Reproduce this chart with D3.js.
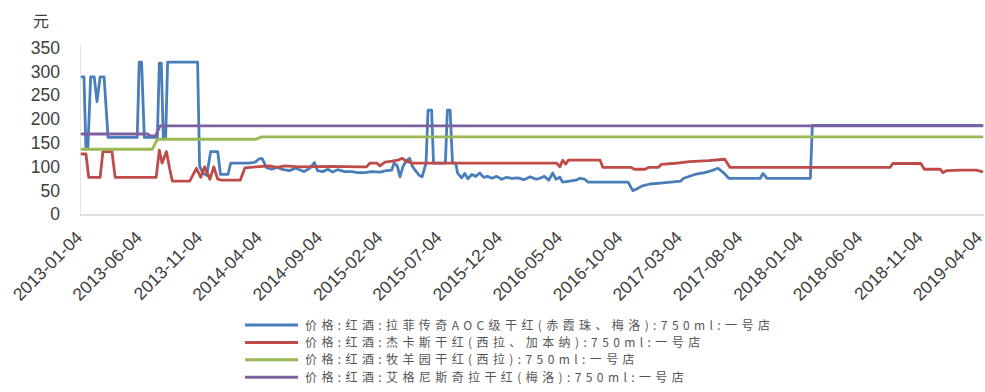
<!DOCTYPE html>
<html>
<head>
<meta charset="utf-8">
<script src="https://cdn.jsdelivr.net/npm/d3@7"></script>
<style>
  body { margin: 0; background: #fff; }
  svg { display: block; }
</style>
</head>
<body>
<svg id="chart" width="985" height="392"></svg>
<script>
// 一号店 红酒价格 (元 / 750ml)
const seriesNames = [
  "价格:红酒:拉菲传奇AOC级干红(赤霞珠、梅洛):750ml:一号店",
  "价格:红酒:杰卡斯干红(西拉、加本纳):750ml:一号店",
  "价格:红酒:牧羊园干红(西拉):750ml:一号店",
  "价格:红酒:艾格尼斯奇拉干红(梅洛):750ml:一号店"
];

const lafiteAOC = [
  ["2013-01-04",287],["2013-01-09",287],["2013-01-14",135],["2013-01-19",140],["2013-01-26",287],
  ["2013-02-04",287],["2013-02-11",235],["2013-02-19",287],["2013-03-01",287],["2013-03-11",160],
  ["2013-05-24",160],["2013-05-29",318],["2013-06-04",318],["2013-06-11",160],["2013-07-14",160],
  ["2013-07-19",316],["2013-07-24",316],["2013-07-29",160],["2013-08-04",160],["2013-08-09",318],
  ["2013-10-24",318],["2013-10-29",100],["2013-11-06",85],["2013-11-16",80],["2013-11-26",130],
  ["2013-12-14",130],["2013-12-21",82],["2014-01-09",82],["2014-01-16",106],["2014-03-04",106],
  ["2014-03-19",108],["2014-03-29",115],["2014-04-06",115],["2014-04-16",97],["2014-04-29",93],
  ["2014-05-14",97],["2014-05-29",92],["2014-06-14",90],["2014-06-29",95],["2014-07-09",92],
  ["2014-07-21",88],["2014-08-04",95],["2014-08-16",107],["2014-08-24",90],["2014-09-06",88],
  ["2014-09-19",93],["2014-10-01",87],["2014-10-14",92],["2014-11-01",88],["2014-11-19",88],
  ["2014-12-04",86],["2014-12-21",86],["2015-01-09",88],["2015-01-29",87],["2015-02-14",90],
  ["2015-02-28",91],["2015-03-06",106],["2015-03-14",100],["2015-03-21",77],["2015-03-29",100],
  ["2015-04-06",110],["2015-04-14",116],["2015-04-21",100],["2015-04-29",90],["2015-05-09",80],
  ["2015-05-16",77],["2015-05-26",106],["2015-05-31",217],["2015-06-09",217],["2015-06-14",106],
  ["2015-07-14",106],["2015-07-19",217],["2015-07-26",217],["2015-08-01",106],["2015-08-09",106],
  ["2015-08-14",85],["2015-08-24",75],["2015-09-01",84],["2015-09-09",73],["2015-09-19",82],
  ["2015-09-29",78],["2015-10-09",85],["2015-10-19",76],["2015-10-29",78],["2015-11-09",74],
  ["2015-11-21",78],["2015-12-04",72],["2015-12-16",76],["2015-12-29",74],["2016-01-14",75],
  ["2016-01-29",71],["2016-02-14",77],["2016-02-29",72],["2016-03-09",74],["2016-03-21",78],
  ["2016-04-01",70],["2016-04-11",85],["2016-04-19",72],["2016-04-29",76],["2016-05-06",66],
  ["2016-05-24",68],["2016-06-09",70],["2016-06-19",74],["2016-07-01",72],["2016-07-09",66],
  ["2016-08-09",66],["2016-09-16",66],["2016-10-19",66],["2016-10-31",48],["2016-11-11",52],
  ["2016-11-24",58],["2016-12-14",62],["2017-01-09",64],["2017-02-04",66],["2017-03-01",68],
  ["2017-03-09",74],["2017-04-06",82],["2017-05-01",86],["2017-05-19",90],["2017-06-04",95],
  ["2017-06-19",85],["2017-07-01",74],["2017-09-19",74],["2017-09-26",84],["2017-10-06",74],
  ["2018-01-24",74],["2018-01-29",185],["2019-04-04",185]
];

const jacobsCreek = [
  ["2013-01-04",125],["2013-01-14",125],["2013-01-21",76],["2013-02-19",76],["2013-02-26",130],
  ["2013-03-21",130],["2013-03-29",76],["2013-07-11",76],["2013-07-19",133],["2013-07-26",106],
  ["2013-08-06",130],["2013-08-14",95],["2013-08-21",68],["2013-10-04",68],["2013-10-21",95],
  ["2013-11-01",76],["2013-11-11",98],["2013-11-24",72],["2013-12-04",98],["2013-12-14",72],
  ["2013-12-24",70],["2014-02-09",70],["2014-02-21",96],["2014-03-21",98],["2014-04-24",100],
  ["2014-05-14",97],["2014-06-01",100],["2014-07-09",98],["2014-09-24",99],["2014-12-09",98],
  ["2014-12-26",98],["2015-01-04",106],["2015-01-21",106],["2015-01-29",100],["2015-02-11",108],
  ["2015-03-01",110],["2015-03-16",112],["2015-03-26",116],["2015-04-06",110],["2015-04-19",106],
  ["2016-04-21",106],["2016-04-29",98],["2016-05-06",112],["2016-05-14",104],["2016-05-21",112],
  ["2016-08-09",112],["2016-08-16",97],["2016-10-26",97],["2016-11-04",93],["2016-12-01",93],
  ["2016-12-11",97],["2017-01-04",97],["2017-01-11",103],["2017-02-09",105],["2017-03-24",109],
  ["2017-05-11",111],["2017-06-21",114],["2017-07-04",97],["2018-08-14",97],["2018-08-21",105],
  ["2018-10-31",105],["2018-11-09",93],["2018-12-19",93],["2018-12-26",86],["2019-01-04",90],
  ["2019-02-09",91],["2019-03-21",91],["2019-04-04",88]
];

const rosemount = [
  ["2013-01-04",135],["2013-07-01",135],["2013-07-14",156],["2014-03-21",156],
  ["2014-04-04",161],["2019-04-04",161]
];

const agnesChila = [
  ["2013-01-04",167],["2013-06-19",167],["2013-06-26",163],["2013-07-09",163],
  ["2013-07-21",184],["2019-04-04",184]
];

const xTickLabels = [
  "2013-01-04","2013-06-04","2013-11-04","2014-04-04","2014-09-04","2015-02-04",
  "2015-07-04","2015-12-04","2016-05-04","2016-10-04","2017-03-04","2017-08-04",
  "2018-01-04","2018-06-04","2018-11-04","2019-04-04"
];
const yTicks = [0, 50, 100, 150, 200, 250, 300, 350];
const seriesColors = ["#4A7EBB", "#BE4B48", "#98B954", "#7D60A0"];

const parse = d3.timeParse("%Y-%m-%d");
const allSeries = [lafiteAOC, jacobsCreek, rosemount, agnesChila]
  .map(s => s.map(([d, v]) => ({ date: parse(d), value: v })));

const svg = d3.select("#chart");
const plot = { left: 82, right: 982, top: 46.9, bottom: 213.5 };

const x = d3.scaleTime()
  .domain([parse(xTickLabels[0]), parse(xTickLabels[xTickLabels.length - 1])])
  .range([plot.left, plot.right]);
const y = d3.scaleLinear().domain([0, 350]).range([plot.bottom, plot.top]);

const labelFont = "'Liberation Sans', Arial, sans-serif";

// frame lines
svg.append("line")
  .attr("x1", 80.5).attr("x2", 80.5).attr("y1", 44).attr("y2", 215)
  .attr("stroke", "#e6e6e6").attr("stroke-width", 1);
svg.append("line")
  .attr("x1", 80).attr("x2", 984).attr("y1", 215).attr("y2", 215)
  .attr("stroke", "#d4d4d4").attr("stroke-width", 1.6);

// y axis
const yAxis = svg.append("g")
  .attr("transform", "translate(60,0)")
  .call(d3.axisLeft(y).tickValues(yTicks).tickSize(0).tickPadding(0));
yAxis.select(".domain").remove();
yAxis.selectAll("text")
  .attr("font-family", labelFont).attr("font-size", 17.5)
  .attr("fill", "#404040").attr("dy", "0.36em");

svg.append("text")
  .attr("x", 41).attr("y", 27)
  .attr("text-anchor", "middle")
  .attr("font-family", "'Noto Sans CJK SC', sans-serif")
  .attr("font-size", 16).attr("fill", "#404040")
  .text("元");

// x axis (rotated date labels)
const xAxis = svg.append("g")
  .attr("transform", `translate(0,${plot.bottom})`)
  .call(d3.axisBottom(x).tickValues(xTickLabels.map(parse)).tickSize(0)
    .tickFormat((d, i) => xTickLabels[i]));
xAxis.select(".domain").remove();
xAxis.selectAll("text")
  .attr("font-family", labelFont).attr("font-size", 17.5)
  .attr("fill", "#404040")
  .attr("text-anchor", "end")
  .attr("dy", null).attr("y", null)
  .attr("transform", "translate(1,25) rotate(-45)");

// series lines
const line = d3.line().x(d => x(d.date)).y(d => y(d.value));
svg.append("g").selectAll("path")
  .data(allSeries)
  .join("path")
  .attr("d", line)
  .attr("fill", "none")
  .attr("stroke", (d, i) => seriesColors[i])
  .attr("stroke-width", 2.8)
  .attr("stroke-linejoin", "round")
  .attr("stroke-linecap", "round");

// legend
const legend = svg.append("g");
const rows = legend.selectAll("g")
  .data(seriesNames)
  .join("g")
  .attr("transform", (d, i) => `translate(245,${325 + i * 17.4})`);
rows.append("line")
  .attr("x1", 0).attr("x2", 53)
  .attr("stroke", (d, i) => seriesColors[i])
  .attr("stroke-width", 3);
rows.append("text")
  .attr("x", 60).attr("y", 4.5)
  .attr("font-family", "'Noto Sans CJK SC', sans-serif")
  .attr("font-size", 12)
  .attr("letter-spacing", 4.4)
  .attr("fill", "#555")
  .text(d => d);
</script>
</body>
</html>
